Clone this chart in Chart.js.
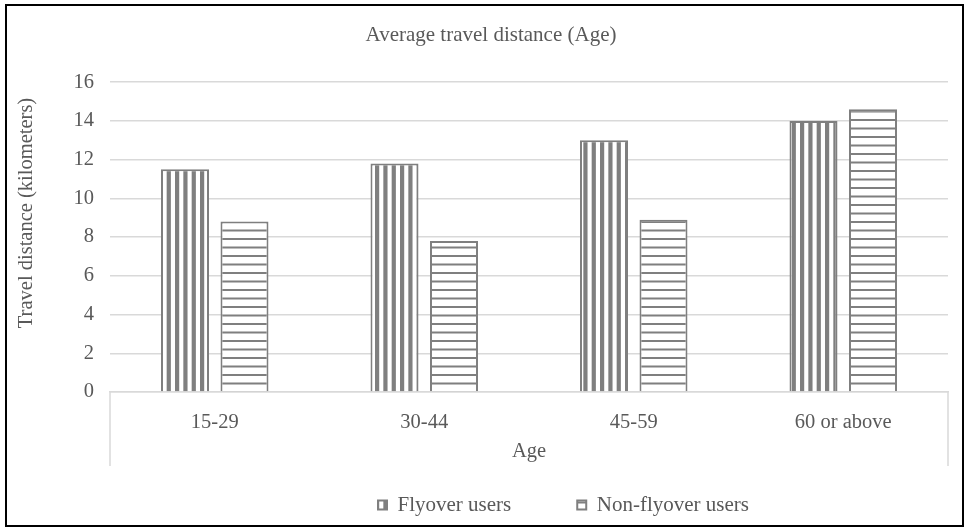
<!DOCTYPE html>
<html>
<head>
<meta charset="utf-8">
<script src="https://cdn.jsdelivr.net/npm/chart.js@4"></script>
<style>
  html, body { margin: 0; padding: 0; background: #ffffff; }
  canvas { display: block; }
</style>
</head>
<body>
<canvas id="chart" width="969" height="532"></canvas>
<script>
// Average travel distance by age group, flyover vs non-flyover users
const categories = ['15-29', '30-44', '45-59', '60 or above'];
const flyoverUsers = [11.5, 11.8, 13.0, 14.0];
const nonFlyoverUsers = [8.8, 7.8, 8.9, 14.6];
const seriesNames = ['Flyover users', 'Non-flyover users'];
const yTicks = [0, 2, 4, 6, 8, 10, 12, 14, 16];
const chartTitle = 'Average travel distance (Age)';
const xTitle = 'Age';
const yTitle = 'Travel distance (kilometers)';

const SERIF = "'Liberation Serif', 'Times New Roman', serif";
const TEXT = '#595959';
const GRID = '#d9d9d9';
const BAR_LINE = '#7f7f7f';

Chart.defaults.font.family = SERIF;
Chart.defaults.color = TEXT;

const canvas = document.getElementById('chart');
const ctx = canvas.getContext('2d');

// Vertical stripe fill (three stripes per 25px tile)
function verticalStripes() {
  const t = document.createElement('canvas');
  t.width = 25; t.height = 4;
  const c = t.getContext('2d');
  c.fillStyle = '#ffffff';
  c.fillRect(0, 0, 25, 4);
  c.fillStyle = BAR_LINE;
  for (let i = 0; i < 3; i++) c.fillRect(i * 25 / 3, 0, 4.2, 4);
  return ctx.createPattern(t, 'repeat');
}

// Horizontal line fill (two lines per 17px tile)
function horizontalLines() {
  const t = document.createElement('canvas');
  t.width = 4; t.height = 17;
  const c = t.getContext('2d');
  c.fillStyle = '#ffffff';
  c.fillRect(0, 0, 4, 17);
  c.fillStyle = BAR_LINE;
  c.fillRect(0, 0, 4, 2);
  c.fillRect(0, 8.5, 4, 2);
  return ctx.createPattern(t, 'repeat');
}

// Outer frame, the boxed category band under the axis, and the value-axis title
const Y_TITLE_X = 27;
const Y_TITLE_Y = 213;
const chartFrame = {
  id: 'chartFrame',
  beforeDraw(chart) {
    const c = chart.ctx;
    c.save();
    c.fillStyle = '#ffffff';
    c.fillRect(0, 0, chart.width, chart.height);
    c.restore();
  },
  afterDraw(chart) {
    const c = chart.ctx;
    const a = chart.chartArea;
    const band = chart.scales.x.height - 6;
    c.save();
    c.strokeStyle = GRID;
    c.lineWidth = 1.5;
    c.beginPath();
    [a.left, a.right].forEach(x => {
      c.moveTo(x, a.bottom);
      c.lineTo(x, a.bottom + band);
    });
    c.stroke();

    c.translate(Y_TITLE_X, Y_TITLE_Y);
    c.rotate(-Math.PI / 2);
    c.font = '20.5px ' + SERIF;
    c.fillStyle = TEXT;
    c.textAlign = 'center';
    c.textBaseline = 'middle';
    c.fillText(yTitle, 0, 0);
    c.setTransform(1, 0, 0, 1, 0, 0);

    c.strokeStyle = '#000000';
    c.lineWidth = 2;
    c.strokeRect(6, 5, chart.width - 12, chart.height - 11);
    c.restore();
  }
};

// Places the legend row: first key box at LEGEND_X, text centred on LEGEND_Y
const LEGEND_X = 378;
const LEGEND_Y = 505;
const legendPlacement = {
  id: 'legendPlacement',
  afterLayout(chart) {
    const lg = chart.legend;
    if (!lg || !lg.lineWidths) return;
    const pad = lg.options.labels.padding;
    const size = lg.options.labels.font.size;
    const w = lg.right - lg.left;
    const h = pad + size + 10;
    const left = LEGEND_X - (w + pad - lg.lineWidths[0]) / 2;
    const top = LEGEND_Y - pad - size / 2;
    lg.left = left; lg.right = left + w;
    lg.top = top; lg.bottom = top + h; lg.height = h;
  }
};

new Chart(ctx, {
  type: 'bar',
  data: {
    labels: categories,
    datasets: [
      {
        label: seriesNames[0],
        data: flyoverUsers,
        backgroundColor: verticalStripes(),
        borderColor: BAR_LINE,
        borderWidth: 2,
        barPercentage: 0.807,
        categoryPercentage: 0.568
      },
      {
        label: seriesNames[1],
        data: nonFlyoverUsers,
        backgroundColor: horizontalLines(),
        borderColor: BAR_LINE,
        borderWidth: 2,
        barPercentage: 0.807,
        categoryPercentage: 0.568
      }
    ]
  },
  options: {
    responsive: false,
    animation: false,
    devicePixelRatio: 1,
    layout: { padding: { left: 34, right: 21, top: 0, bottom: 7 } },
    plugins: {
      title: {
        display: true,
        text: chartTitle,
        color: TEXT,
        font: { size: 21, weight: 'normal' },
        padding: { top: 23, bottom: 34 }
      },
      legend: {
        position: 'bottom',
        maxHeight: 53,
        labels: {
          boxWidth: 9,
          boxHeight: 9,
          padding: 66,
          color: TEXT,
          font: { size: 21, weight: 'normal' }
        }
      },
      tooltip: { enabled: false }
    },
    scales: {
      x: {
        grid: { display: false },
        border: { display: true, color: GRID, width: 1.5 },
        ticks: { padding: 10, color: TEXT, font: { size: 20.5 } },
        title: {
          display: true,
          text: xTitle,
          color: TEXT,
          font: { size: 20.5 },
          padding: { top: 0, bottom: 8 }
        },
        afterFit(scale) { scale.height = 80; }
      },
      y: {
        min: yTicks[0],
        max: yTicks[yTicks.length - 1],
        ticks: {
          stepSize: yTicks[1] - yTicks[0],
          padding: 16,
          color: TEXT,
          font: { size: 20.5 }
        },
        grid: { color: GRID, lineWidth: 1.5, drawTicks: false },
        border: { display: false },
        title: { display: false },
        afterFit(scale) { scale.width = 76; }
      }
    }
  },
  plugins: [chartFrame, legendPlacement]
});
</script>
</body>
</html>
